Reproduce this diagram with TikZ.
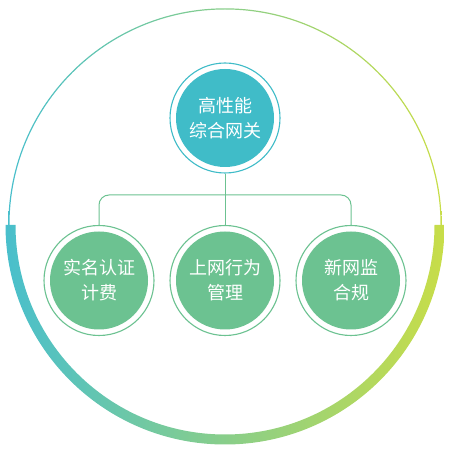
\documentclass[tikz,border=0pt]{standalone}
\usepackage{fontspec}
\newfontfamily\cjk{Noto Sans CJK SC}
\definecolor{tealc}{HTML}{40BCC8}
\definecolor{greenc}{HTML}{6CC291}
\definecolor{gl}{HTML}{49BFCC}
\definecolor{gm}{HTML}{80CF8F}
\definecolor{gr}{HTML}{C8DD48}
\tikzset{
  bubble/.style={circle, draw=#1, line width=1.1pt, fill=white, minimum size=110pt, inner sep=0pt,
    align=center, text=white, font=\cjk\fontsize{18pt}{25pt}\selectfont,
    path picture={\fill[#1] (path picture bounding box.center) circle[radius=49pt];}},
  conn/.style={draw=greenc, line width=1pt, rounded corners=10pt}
}
\begin{document}
\begin{tikzpicture}[x=1pt,y=1pt]
\useasboundingbox (0,0) rectangle (450,450);
\coordinate (C) at (225,225);
% thin gradient circle
\shade[even odd rule, left color=gl, middle color=gm, right color=gr]
  (C) circle[radius=216.7pt] (C) circle[radius=215.5pt];
% thick bottom arc
\shade[left color=gl, middle color=gm, right color=gr]
  ([shift={(180:219.5pt)}]C) arc[start angle=180, end angle=360, radius=219.5pt]
  -- ([shift={(0:209.5pt)}]C) arc[start angle=0, end angle=-180, radius=209.5pt] -- cycle;
% connectors
\coordinate (bus) at (225,255);
\node[bubble=tealc] (top) at (225,332) {\raisebox{-2pt}{高性能}\\\raisebox{-2pt}{综合网关}};
\node[bubble=greenc] (a) at (99,169.5) {\raisebox{-4pt}{实名认证}\\\raisebox{-4pt}{计费}};
\node[bubble=greenc] (b) at (225,169.5) {\raisebox{-4pt}{上网行为}\\\raisebox{-4pt}{管理}};
\node[bubble=greenc] (c) at (351,169.5) {\raisebox{-4pt}{新网监}\\\raisebox{-4pt}{合规}};
\draw[conn] (top.south) -- (bus);
\draw[conn] (a.north) |- (bus) -| (c.north);
\draw[conn] (bus) -- (b.north);
\end{tikzpicture}
\end{document}
